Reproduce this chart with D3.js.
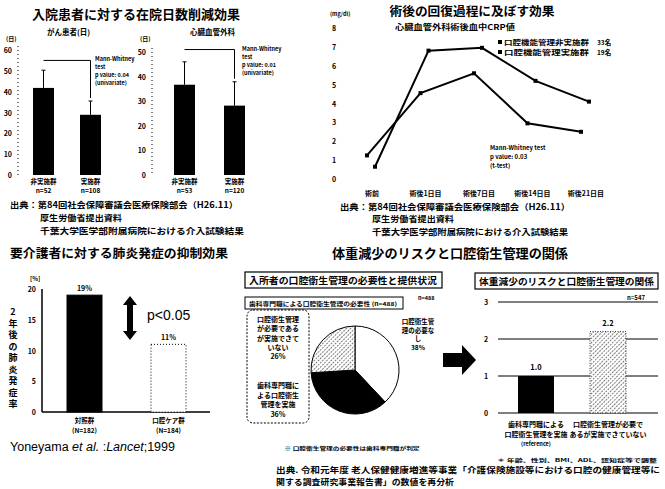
<!DOCTYPE html>
<html>
<head>
<meta charset="utf-8">
<script src="https://cdn.jsdelivr.net/npm/d3@7"></script>
<style>
  body { margin: 0; background: #fff; }
  svg text { font-family: "Noto Sans CJK JP", "Noto Sans", sans-serif; fill: #000; }
</style>
</head>
<body>
<div id="chart"></div>
<script>
// Panel 1: hospital stay (days)
const stayGroups = ["非実施群", "実施群"];
const stayLeftN = ["n=52", "n=108"];
const stayLeftMean = [41.8, 28.9];
const stayLeftErr = [50.3, 35.5];
const stayRightN = ["n=53", "n=120"];
const stayRightMean = [36.7, 28.2];
const stayRightErr = [46, 37.9];
const stayLeftTicks = [0, 10, 20, 30, 40, 50, 60];
const stayRightTicks = [0, 10, 20, 30, 40, 50];

// Panel 2: CRP after surgery
const crpDays = ["術前", "術後1日目", "術後7日目", "術後14日目", "術後21日目"];
const crpNoCare = [0.65, 6.8, 6.95, 5.2, 4.1];
const crpCare = [1.25, 4.55, 5.6, 2.95, 2.5];
const crpTicks = [0, 1, 2, 3, 4, 5, 6, 7, 8];

// Panel 3: pneumonia incidence
const pneuGroups = ["対照群", "口腔ケア群"];
const pneuN = ["(N=182)", "(N=184)"];
const pneuRate = [19, 11];
const pneuTicks = [0, 5, 10, 15, 20];

// Panel 4: pie + odds ratio
const pieLabels = ["必要なし", "実施", "未実施"];
const pieShares = [38, 36, 26];
const orGroups = ["実施", "未実施"];
const orValues = [1.0, 2.2];
const orTicks = [0, 1, 2, 3];

const W = 665, H = 489;
const svg = d3.select("#chart").append("svg")
  .attr("width", W).attr("height", H);

const defs = svg.append("defs");
const hatch = defs.append("pattern")
  .attr("id", "hatch")
  .attr("patternUnits", "userSpaceOnUse")
  .attr("width", 3).attr("height", 3)
  .attr("patternTransform", "rotate(45)");
hatch.append("rect").attr("width", 3).attr("height", 3).attr("fill", "#fff");
hatch.append("line").attr("x1", 0).attr("y1", 0).attr("x2", 0).attr("y2", 3)
  .attr("stroke", "#222").attr("stroke-width", 1.2).attr("stroke-dasharray", "2,1");

function txt(x, y, s, size, opts = {}) {
  const t = svg.append("text")
    .attr("x", x).attr("y", y)
    .attr("font-size", size)
    .attr("font-weight", opts.weight || "bold")
    .attr("text-anchor", opts.anchor || "start")
    .text(s);
  if (opts.len) t.attr("textLength", opts.len).attr("lengthAdjust", "spacingAndGlyphs");
  if (opts.family) t.style("font-family", opts.family);
  return t;
}

// ---------- Panel 1 ----------
txt(136, 19, "入院患者に対する在院日数削減効果", 13, { anchor: "middle", len: 208 });

function stayChart(x0, bars, barW, yTop, ticks, means, errs, ns, sub, subX, bracketY, annX, annY, pval) {
  const y = d3.scaleLinear().domain([0, d3.max(ticks)]).range([175, yTop]);
  txt(subX, 35, sub, 7.5);
  txt(x0 - 12, 41, "(日)", 6);
  ticks.forEach((t) => txt(x0 - 6, y(t) + 3, t, 7, { anchor: "end" }));
  svg.append("line").attr("x1", x0).attr("x2", x0)
    .attr("y1", y(d3.max(ticks)) - 4).attr("y2", y(0))
    .attr("stroke", "#000").attr("stroke-dasharray", "1,3");
  const g = svg.append("g");
  g.selectAll("rect").data(means).enter().append("rect")
    .attr("x", (d, i) => bars[i])
    .attr("y", (d) => y(d))
    .attr("width", barW)
    .attr("height", (d) => y(0) - y(d))
    .attr("fill", "#000");
  errs.forEach((e, i) => {
    const cx = bars[i] + barW / 2;
    svg.append("line").attr("x1", cx).attr("x2", cx).attr("y1", y(means[i])).attr("y2", y(e))
      .attr("stroke", "#000").attr("stroke-width", 1);
    svg.append("line").attr("x1", cx - 2).attr("x2", cx + 2).attr("y1", y(e)).attr("y2", y(e))
      .attr("stroke", "#000").attr("stroke-width", 1);
    txt(cx, 184, stayGroups[i], 6.5, { anchor: "middle" });
    txt(cx, 193, ns[i], 6.5, { anchor: "middle" });
  });
  const c1 = bars[0] + barW / 2, c2 = bars[1] + barW / 2;
  svg.append("path")
    .attr("d", `M${c1},${y(bracketY)}L${c2},${y(bracketY)}L${c2},${y(errs[1]) - 3}`)
    .attr("fill", "none").attr("stroke", "#000").attr("stroke-width", 1);
  ["Mann-Whitney", "test", "p value: " + pval, "(univariate)"].forEach((s, i) =>
    txt(annX, annY + i * 8, s, 5.5));
}

stayChart(18, [33, 80], 21, 50, stayLeftTicks, stayLeftMean, stayLeftErr, stayLeftN,
  "がん患者(日)", 47, 55, 95, 61, "0.04");
stayChart(152, [174, 224], 21, 52, stayRightTicks, stayRightMean, stayRightErr, stayRightN,
  "心臓血管外科", 190, 51, 242, 51, "0.01");

txt(10, 208, "出典：第84回社会保障審議会医療保険部会（H26.11）", 8.5, { len: 228 });
txt(40, 221, "厚生労働省提出資料", 8.5, { len: 82 });
txt(40, 234, "千葉大学医学部附属病院における介入試験結果", 8.5, { len: 204 });

// ---------- Panel 2 ----------
txt(472, 16, "術後の回復過程に及ぼす効果", 12.5, { anchor: "middle", len: 165 });
txt(330, 16, "(mg/dl)", 5.5);
txt(395, 30, "心臓血管外科術後血中CRP値", 7.5, { len: 120 });

const yCrp = d3.scaleLinear().domain([0, 8]).range([179, 28]);
const xCrp = d3.scalePoint().domain(crpDays).range([372, 586]);
crpTicks.forEach((t) => txt(334, yCrp(t) + 3, t, 7, { anchor: "middle" }));
crpDays.forEach((d) => txt(xCrp(d), 196, d, 7, { anchor: "middle" }));

const crpLine = (off) => d3.line()
  .x((d, i) => xCrp(crpDays[i]) + off)
  .y((d) => yCrp(d));
[[crpNoCare, 3], [crpCare, -5]].forEach(([vals, off]) => {
  svg.append("path").attr("d", crpLine(off)(vals))
    .attr("fill", "none").attr("stroke", "#000").attr("stroke-width", 2);
  svg.selectAll(null).data(vals).enter().append("rect")
    .attr("x", (d, i) => xCrp(crpDays[i]) + off - 2)
    .attr("y", (d) => yCrp(d) - 2)
    .attr("width", 4).attr("height", 4).attr("fill", "#000");
});
svg.append("rect").attr("x", 498).attr("y", 40).attr("width", 4).attr("height", 4).attr("fill", "#000");
svg.append("rect").attr("x", 498).attr("y", 50).attr("width", 4).attr("height", 4).attr("fill", "#000");
txt(504, 45, "口腔機能管理非実施群", 6.5, { len: 85 });
txt(504, 55, "口腔機能管理実施群", 6.5, { len: 85 });
txt(597, 45, "33名", 6.5);
txt(597, 55, "19名", 6.5);
["Mann-Whitney test", "p value: 0.03", "(t-test)"].forEach((s, i) =>
  txt(490, 150 + i * 9, s, 6));

txt(340, 210, "出典：第84回社会保障審議会医療保険部会（H26.11）", 8.5, { len: 230 });
txt(372, 222, "厚生労働省提出資料", 8.5, { len: 82 });
txt(372, 235, "千葉大学医学部附属病院における介入試験結果", 8.5, { len: 196 });

// ---------- Panel 3 ----------
txt(119, 258, "要介護者に対する肺炎発症の抑制効果", 12.5, { anchor: "middle", len: 218 });
txt(30, 281, "[%]", 6);
const yPn = d3.scaleLinear().domain([0, 20]).range([412, 289]);
pneuTicks.forEach((t) => txt(36, yPn(t) + 3, t, 7, { anchor: "end" }));
svg.append("line").attr("x1", 42).attr("x2", 42).attr("y1", yPn(20)).attr("y2", yPn(0))
  .attr("stroke", "#000").attr("stroke-width", 1.5);
svg.append("line").attr("x1", 42).attr("x2", 210).attr("y1", yPn(0)).attr("y2", yPn(0))
  .attr("stroke", "#000").attr("stroke-width", 1.5);
const pnX = [67, 151];
svg.selectAll(null).data(pneuRate).enter().append("rect")
  .attr("x", (d, i) => pnX[i])
  .attr("y", (d) => yPn(d))
  .attr("width", 35)
  .attr("height", (d) => yPn(0) - yPn(d))
  .attr("fill", (d, i) => (i === 0 ? "#000" : "#fff"))
  .attr("stroke", "#000")
  .attr("stroke-dasharray", (d, i) => (i === 0 ? null : "1,2"));
pneuRate.forEach((v, i) => {
  txt(pnX[i] + 17.5, yPn(v) - 4, v + "%", 7, { anchor: "middle" });
  txt(pnX[i] + 17.5, 423, pneuGroups[i], 6.5, { anchor: "middle" });
  txt(pnX[i] + 17.5, 433, pneuN[i], 6.5, { anchor: "middle" });
});
"2年後の肺炎発症率".split("").forEach((c, i) => txt(13, 315 + i * 11.5, c, 9, { anchor: "middle" }));
// double arrow
svg.append("path")
  .attr("d", "M130,296 L137,305 L133,305 L133,331 L137,331 L130,340 L123,331 L127,331 L127,305 L123,305 Z")
  .attr("fill", "#000");
txt(147, 320, "p<0.05", 14, { weight: "normal", family: "Liberation Sans, Arial, sans-serif" });
const cite = svg.append("text").attr("x", 10).attr("y", 451).attr("font-size", 12.5)
  .style("font-family", "Liberation Sans, Arial, sans-serif");
cite.append("tspan").text("Yoneyama ");
cite.append("tspan").attr("font-style", "italic").text("et al.");
cite.append("tspan").text(" :");
cite.append("tspan").attr("font-style", "italic").text("Lancet");
cite.append("tspan").text(";1999");

// ---------- Panel 4 ----------
txt(450, 258, "体重減少のリスクと口腔衛生管理の関係", 13, { anchor: "middle", len: 236 });

svg.append("rect").attr("x", 245).attr("y", 272).attr("width", 197).attr("height", 16)
  .attr("fill", "none").attr("stroke", "#000").attr("stroke-width", 1.2);
txt(249, 284, "入所者の口腔衛生管理の必要性と提供状況", 9.5, { len: 188 });
svg.append("rect").attr("x", 475).attr("y", 273).attr("width", 183).attr("height", 16)
  .attr("fill", "none").attr("stroke", "#000").attr("stroke-width", 1.2);
txt(479, 285, "体重減少のリスクと口腔衛生管理の関係", 9.5, { len: 175 });

svg.append("rect").attr("x", 245).attr("y", 297).attr("width", 158).attr("height", 12)
  .attr("fill", "none").attr("stroke", "#000").attr("stroke-width", 1);
txt(249, 306, "歯科専門職による口腔衛生管理の必要性 (n=488)", 5.5, { len: 148 });
txt(418, 300, "n=488", 5.5);

svg.append("rect").attr("x", 247).attr("y", 310).attr("width", 62).attr("height", 113)
  .attr("rx", 6).attr("fill", "none").attr("stroke", "#000").attr("stroke-dasharray", "2,1.5");
["口腔衛生管理", "が必要である", "が実施できて", "いない", pieShares[2] + "%"].forEach((s, i) =>
  txt(278, 322 + i * 9.3, s, 7, { anchor: "middle" }));
["歯科専門職に", "よる口腔衛生", "管理を実施", pieShares[1] + "%"].forEach((s, i) =>
  txt(278, 388 + i * 9.5, s, 7, { anchor: "middle" }));
["口腔衛生管", "理の必要な", "し", pieShares[0] + "%"].forEach((s, i) =>
  txt(418, 324 + i * 8.5, s, 6.5, { anchor: "middle" }));

const pie = d3.pie().sort(null).value((d) => d);
const arc = d3.arc().innerRadius(0).outerRadius(44);
const pieFill = ["#fff", "#000", "url(#hatch)"];
svg.append("g").attr("transform", "translate(355,370)")
  .selectAll("path").data(pie(pieShares)).enter().append("path")
  .attr("d", arc)
  .attr("fill", (d, i) => pieFill[i])
  .attr("stroke", "#000").attr("stroke-width", 1);
txt(352, 450, "※ 口腔衛生管理の必要性は歯科専門職が判定", 5, { anchor: "middle", len: 135 });

// arrow
svg.append("path").attr("d", "M443,353 L462,353 L462,345 L476,360 L462,375 L462,367 L443,367 Z")
  .attr("fill", "#000");

const yOr = d3.scaleLinear().domain([0, 3]).range([413, 302]);
orTicks.forEach((t) => {
  txt(486, yOr(t) + 3, t, 7, { anchor: "middle" });
  svg.append("line").attr("x1", 498).attr("x2", 658).attr("y1", yOr(t)).attr("y2", yOr(t))
    .attr("stroke", "#000").attr("stroke-width", 1);
});
const orX = [518, 590];
svg.selectAll(null).data(orValues).enter().append("rect")
  .attr("x", (d, i) => orX[i])
  .attr("y", (d) => yOr(d))
  .attr("width", 36)
  .attr("height", (d) => yOr(0) - yOr(d))
  .attr("fill", (d, i) => (i === 0 ? "#000" : "url(#hatch)"))
  .attr("stroke", (d, i) => (i === 0 ? null : "#000"))
  .attr("stroke-dasharray", "1,1.5")
  .attr("stroke-width", 0.8);
orValues.forEach((v, i) => txt(orX[i] + 18, yOr(v) - 6, v.toFixed(1), 7.5, { anchor: "middle" }));
txt(636, 300, "n=547", 6, { anchor: "middle" });
txt(536, 427, "歯科専門職による", 7, { anchor: "middle" });
txt(536, 437, "口腔衛生管理を実施", 7, { anchor: "middle" });
txt(536, 446, "(reference)", 5.5, { anchor: "middle" });
txt(608, 427, "口腔衛生管理が必要で", 7, { anchor: "middle" });
txt(608, 437, "あるが実施できていない", 7, { anchor: "middle" });
txt(577, 462, "＊ 年齢、性別、BMI、ADL、認知症等で調整", 5, { anchor: "middle", len: 160 });

txt(276, 473, "出典. 令和元年度 老人保健健康増進等事業「介護保険施設等における口腔の健康管理等に", 8, { len: 384 });
txt(276, 485, "関する調査研究事業報告書」の数値を再分析", 8, { len: 178 });
</script>
</body>
</html>
